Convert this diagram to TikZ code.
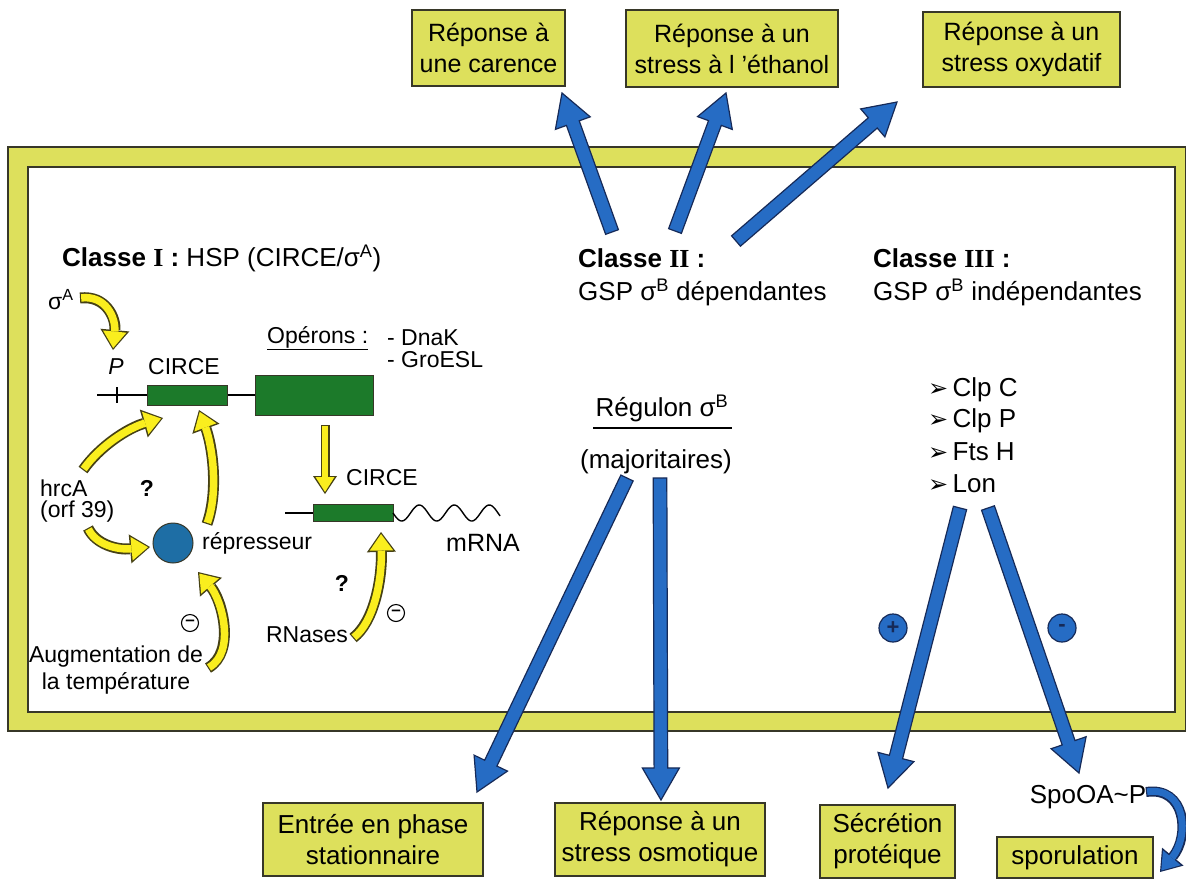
\documentclass[tikz,border=0pt]{standalone}
\usepackage{fontspec}
\setmainfont{Liberation Sans}
\newfontfamily\tnr{Liberation Serif}
\newfontfamily\dejavu{DejaVu Sans}
\usetikzlibrary{arrows.meta,calc}
\definecolor{boxyel}{RGB}{221,224,92}
\definecolor{boxline}{RGB}{55,55,40}
\definecolor{arrblue}{RGB}{38,108,196}
\definecolor{arrline}{RGB}{22,42,88}
\definecolor{yfill}{RGB}{250,238,30}
\definecolor{yline}{RGB}{70,65,20}
\definecolor{genegreen}{RGB}{28,122,42}
\definecolor{repblue}{RGB}{30,110,165}
\newcommand{\fsz}[2]{\fontsize{#1pt}{#2pt}\selectfont}
\newcommand{\fatarr}[2]{%
  \coordinate (fah) at ($(#2)!32pt!(#1)$);
  \filldraw[fat] ($(#1)!6.8pt!90:(#2)$) -- ($(fah)!6.8pt!90:(#2)$) -- ($(fah)!18.5pt!90:(#2)$) -- (#2)
    -- ($(fah)!18.5pt!-90:(#2)$) -- ($(fah)!6.8pt!-90:(#2)$) -- ($(#1)!6.8pt!-90:(#2)$) -- cycle;}
\newcommand{\yarr}[1]{\draw[yo] #1; \draw[yi] #1;}
\newcommand{\barr}[1]{\draw[bo] #1; \draw[bi] #1;}
\begin{document}
\begin{tikzpicture}[x=1pt,y=-1pt,
  box/.style={draw=boxline, line width=1.3pt, fill=boxyel, align=center, inner sep=0pt, font=\fsz{25}{31}},
  lbl/.style={inner sep=0pt, font=\fsz{23}{27}},
  cls/.style={inner sep=0pt, font=\fsz{26}{30}, anchor=west},
  fat/.style={fill=arrblue, draw=arrline, line width=1.2pt, line join=miter},
  yo/.style={draw=yline, line width=11pt, -{Triangle[width=29pt,length=20pt,line width=0pt]}},
  yi/.style={draw=yfill, line width=7.5pt, shorten >=2pt, shorten <=1.2pt, -{Triangle[width=23.5pt,length=16.5pt,line width=0pt]}},
  bo/.style={draw=arrline, line width=10pt, -{Triangle[width=28pt,length=20pt,line width=0pt]}},
  bi/.style={draw=arrblue, line width=7pt, shorten >=2pt, shorten <=1.2pt, -{Triangle[width=23pt,length=16.5pt,line width=0pt]}},
  gene/.style={draw=boxline, fill=genegreen, line width=1pt, inner sep=0pt},
  minus/.style={circle, draw=black, line width=1.1pt, fill=white, minimum size=17pt, inner sep=0pt, font=\bfseries\fsz{17}{17}},
  pm/.style={circle, draw=arrline, line width=1.2pt, fill=arrblue, minimum size=28pt, inner sep=0pt, font=\bfseries\fsz{22}{22}, text=arrline},
  dnaline/.style={line width=1.4pt, draw=black}
]
\useasboundingbox (0,0) rectangle (1186,879);
\fill[white] (0,0) rectangle (1186,879);

% frame
\filldraw[fill=boxyel, draw=boxline, line width=1.3pt] (8,147) rectangle (1186,731);
\filldraw[fill=white, draw=boxline, line width=1.3pt] (28,167) rectangle (1175,712);

% result boxes
\node[box, minimum width=153pt, minimum height=76pt] (b1) at (488.5,48) {Réponse à\\une carence};
\node[box, minimum width=212pt, minimum height=77pt] (b2) at (732,48.5) {Réponse à un\\stress à l 'éthanol};
\node[box, minimum width=197pt, minimum height=75pt] (b3) at (1021.5,49.5) {Réponse à un\\stress oxydatif};
\node[box, font=\fsz{26}{31}, minimum width=220pt, minimum height=73pt] (b4) at (373,839.5) {Entrée en phase\\stationnaire};
\node[box, font=\fsz{26}{31}, minimum width=210pt, minimum height=73pt] (b5) at (660,839.5) {Réponse à un\\stress osmotique};
\node[box, font=\fsz{26}{31}, minimum width=135pt, minimum height=73pt] (b6) at (887.5,841.5) {Sécrétion\\protéique};
\node[box, font=\fsz{26}{31}, minimum width=156pt, minimum height=41pt] (b7) at (1075,857.5) {sporulation};
\node[inner sep=0pt, font=\fsz{26}{30}] (spo) at (1088,797) {SpoOA\char`~P};

% class labels
\node[cls] (c1) at (62,258) {\textbf{Classe {\tnr I} :} HSP (CIRCE/σ\textsuperscript{A})};
\node[cls] (c2) at (578,258) {\textbf{Classe {\tnr II} :}};
\node[cls] (c2b) at (578,292) {GSP σ\textsuperscript{B} dépendantes};
\node[cls] (c3) at (873,258) {\textbf{Classe {\tnr III} :}};
\node[cls] (c3b) at (873,292) {GSP σ\textsuperscript{B} indépendantes};
\node[cls, anchor=center] (reg) at (662,408) {Régulon σ\textsuperscript{B}};
\draw[line width=1.5pt] (593,428) -- (732,428);
\node[cls, anchor=center] (maj) at (656,462) {(majoritaires)};
\node[cls] (l1) at (928,390) {{\dejavu\fsz{24}{26}➢}\,Clp C};
\node[cls] (l2) at (928,421) {{\dejavu\fsz{24}{26}➢}\,Clp P};
\node[cls] (l3) at (928,452) {{\dejavu\fsz{24}{26}➢}\,Fts H};
\node[cls] (l4) at (928,484) {{\dejavu\fsz{24}{26}➢}\,Lon};

% blue arrows
\coordinate (a1s) at (612,232); \coordinate (a1e) at (562,93);
\coordinate (a2s) at (675,231); \coordinate (a2e) at (726,93);
\coordinate (a3s) at (736,241); \coordinate (a3e) at (897,102);
\coordinate (d1s) at (627,478); \coordinate (d1e) at (477,792);
\coordinate (d2s) at (660,478); \coordinate (d2e) at (661,800);
\coordinate (d3s) at (960,508); \coordinate (d3e) at (888,788);
\coordinate (d4s) at (988,508); \coordinate (d4e) at (1079,773);
\fatarr{a1s}{a1e}
\fatarr{a2s}{a2e}
\fatarr{a3s}{a3e}
\fatarr{d1s}{d1e}
\fatarr{d2s}{d2e}
\fatarr{d3s}{d3e}
\fatarr{d4s}{d4e}
\node[pm] (plus) at (893,628) {+};
\node[pm] (moins) at (1062,628) {-};
\coordinate (sps) at (1146,792); \coordinate (spe) at (1160,872);
\barr{(sps) .. controls (1186,786) and (1190,836) .. (spe)}

% gene 1
\node[gene, minimum width=80pt, minimum height=20pt] (circe1) at (187,395) {};
\node[gene, minimum width=118pt, minimum height=40pt] (opbox) at (314,395) {};
\coordinate (g1l) at (97,395);
\draw[dnaline] (g1l) -- (circe1.west);
\draw[dnaline] (circe1.east) -- (opbox.west);
\draw[dnaline] (117,387) -- (117,403);
\node[lbl, font=\itshape\fsz{23}{27}] (P) at (116,367) {P};
\node[lbl] (cl1) at (184,367) {CIRCE};
\node[lbl, anchor=west] (op) at (267,338) {\underline{Opérons :}};
\node[lbl, anchor=west] (dnak) at (387,338) {- DnaK};
\node[lbl, anchor=west] (groe) at (387,360) {- GroESL};
\node[lbl, anchor=west] (sA) at (48,300) {σ\textsuperscript{A}};

% gene 2
\node[gene, minimum width=80pt, minimum height=17pt] (circe2) at (353,513) {};
\coordinate (g2l) at (285,513);
\draw[dnaline] (g2l) -- (circe2.west);
\draw[dnaline] plot[domain=0:3.06, samples=90, smooth] ({393+35*\x},{513+8*sin(360*\x)});
\node[lbl] (cl2) at (382,478) {CIRCE};
\node[lbl, font=\fsz{25}{30}] (mrna) at (483,543) {mRNA};

% repressor
\node[circle, fill=repblue, draw=boxline, line width=1pt, minimum size=40pt, inner sep=0pt] (rep) at (173,543) {};
\node[lbl, anchor=west] (reptxt) at (202,543) {répresseur};
\node[lbl, anchor=west] (hrca) at (40,488) {hrcA};
\node[lbl, anchor=west] (orf) at (40,512) {(orf 39)};
\node[lbl, font=\bfseries\fsz{23}{27}] (q1) at (147,488) {?};
\node[lbl, font=\bfseries\fsz{23}{27}] (q2) at (342,583) {?};
\node[lbl] (rnases) at (307,635) {RNases};
\node[lbl, align=center] (temp) at (116,670) {Augmentation de\\la température};
\node[minus] (m1) at (190,623) {–};
\node[minus] (m2) at (396,613) {–};

% yellow arrows
\coordinate (ya1s) at (80,298); \coordinate (ya1e) at (113,350);
\yarr{(ya1s) .. controls (106,295) and (116,318) .. (ya1e)}
\coordinate (ya2s) at (83,470); \coordinate (ya2e) at (163,418);
\yarr{(ya2s) .. controls (100,446) and (128,428) .. (ya2e)}
\coordinate (ya3s) at (207,524); \coordinate (ya3e) at (199,410);
\yarr{(ya3s) .. controls (219,490) and (212,445) .. (ya3e)}
\coordinate (ya4s) at (88,528); \coordinate (ya4e) at (150,547);
\yarr{(ya4s) .. controls (96,545) and (118,550) .. (ya4e)}
\coordinate (ya5s) at (208,668); \coordinate (ya5e) at (198,572);
\yarr{(ya5s) .. controls (236,652) and (222,600) .. (ya5e)}
\coordinate (ya6s) at (325,425); \coordinate (ya6e) at (325,494);
\draw[yo, line width=9pt, -{Triangle[width=24pt,length=18pt,line width=0pt]}] (ya6s) -- (ya6e);
\draw[yi, line width=6pt, -{Triangle[width=19pt,length=15pt,line width=0pt]}] (ya6s) -- (ya6e);
\coordinate (ya7s) at (353,638); \coordinate (ya7e) at (381,532);
\yarr{(ya7s) .. controls (374,622) and (382,580) .. (ya7e)}
\end{tikzpicture}
\end{document}
